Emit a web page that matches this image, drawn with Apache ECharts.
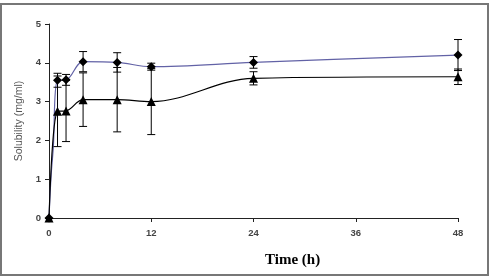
<!DOCTYPE html>
<html><head><meta charset="utf-8">
<script src="https://cdn.jsdelivr.net/npm/echarts@6/dist/echarts.min.js"></script>
<style>html,body{margin:0;padding:0;background:#fff}#c{width:492px;height:278px}</style>
</head><body><div id="c"></div>
<script>
const xTicks = [0, 12, 24, 36, 48];
const yTicks = [0, 1, 2, 3, 4, 5];
const diamondTime = [0, 0.25, 0.5, 1, 2, 4, 8, 12, 24, 48];
const diamondValue = [0, 1.1, 1.8, 3.55, 3.56, 4.03, 4.01, 3.9, 4.01, 4.2];
const diamondErr = [0, 0, 0, 0.18, 0.14, 0.26, 0.25, 0.09, 0.15, 0.4];
const diamondMarked = [1, 0, 0, 1, 1, 1, 1, 1, 1, 1];
const triTime = [0, 1, 2, 4, 8, 12, 24, 48];
const triValue = [0, 2.75, 2.76, 3.05, 3.05, 3.0, 3.6, 3.64];
const triErr = [0, 0.91, 0.79, 0.69, 0.83, 0.85, 0.17, 0.2];

const chart = echarts.init(document.getElementById('c'));
function errData(t, v, e) { return t.map((x, i) => [x, v[i] - e[i], v[i] + e[i]]).filter((d, i) => e[i] > 0); }
function errSeries(data) {
  return {
    type: 'custom', data: data, z: 5, silent: true,
    renderItem: function (params, api) {
      const lo = api.coord([api.value(0), api.value(1)]);
      const hi = api.coord([api.value(0), api.value(2)]);
      const w = 4;
      const st = { stroke: '#000', lineWidth: 1 };
      return { type: 'group', children: [
        { type: 'line', shape: { x1: lo[0], y1: lo[1], x2: hi[0], y2: hi[1] }, style: st },
        { type: 'line', shape: { x1: lo[0] - w, y1: lo[1], x2: lo[0] + w, y2: lo[1] }, style: st },
        { type: 'line', shape: { x1: hi[0] - w, y1: hi[1], x2: hi[0] + w, y2: hi[1] }, style: st }
      ]};
    }
  };
}
const axisLbl = { color: '#444', fontFamily: 'Liberation Sans, Arial', fontWeight: 'bold', fontSize: 9.5 };
chart.setOption({
  animation: false,
  grid: { left: 49, right: 34, top: 24, bottom: 60 },
  xAxis: {
    type: 'value', min: 0, max: 48, interval: 12,
    axisLine: { lineStyle: { color: '#222', width: 1 } },
    axisTick: { length: 4, lineStyle: { color: '#222' } },
    splitLine: { show: false },
    axisLabel: Object.assign({ margin: 10 }, axisLbl)
  },
  yAxis: {
    type: 'value', min: 0, max: 5, interval: 1,
    name: 'Solubility (mg/ml)', nameLocation: 'middle', nameRotate: 90, nameGap: 24,
    nameTextStyle: { color: '#555', fontFamily: 'Liberation Sans, Arial', fontSize: 10.5 },
    axisLine: { show: true, lineStyle: { color: '#222', width: 1 } },
    axisTick: { show: true, length: 4, lineStyle: { color: '#222' } },
    splitLine: { show: false },
    axisLabel: Object.assign({ margin: 8 }, axisLbl)
  },
  series: [
    errSeries(errData(diamondTime, diamondValue, diamondErr)),
    errSeries(errData(triTime, triValue, triErr)),
    {
      type: 'line', smooth: 0.35, z: 3,
      data: diamondTime.map((t, i) => ({ value: [t, diamondValue[i]], symbolSize: diamondMarked[i] ? 9 : 0 })),
      symbol: 'diamond', symbolSize: 9,
      lineStyle: { color: '#6262a6', width: 1.2 },
      itemStyle: { color: '#000', borderWidth: 0 }
    },
    {
      type: 'line', smooth: 0.35, z: 4,
      data: triTime.map((t, i) => [t, triValue[i]]),
      symbol: 'triangle', symbolSize: 9,
      lineStyle: { color: '#000', width: 1.2 },
      itemStyle: { color: '#000', borderWidth: 0 }
    }
  ],
  graphic: [
    { type: 'rect', shape: { x: 1, y: 4, width: 487, height: 271 }, style: { fill: 'none', stroke: '#777', lineWidth: 2 }, silent: true },
    { type: 'text', left: 265, top: 253, style: { text: 'Time (h)', fontFamily: 'Liberation Serif, Times New Roman', fontWeight: 'bold', fontSize: 15, fill: '#000' } }
  ]
});
</script></body></html>
